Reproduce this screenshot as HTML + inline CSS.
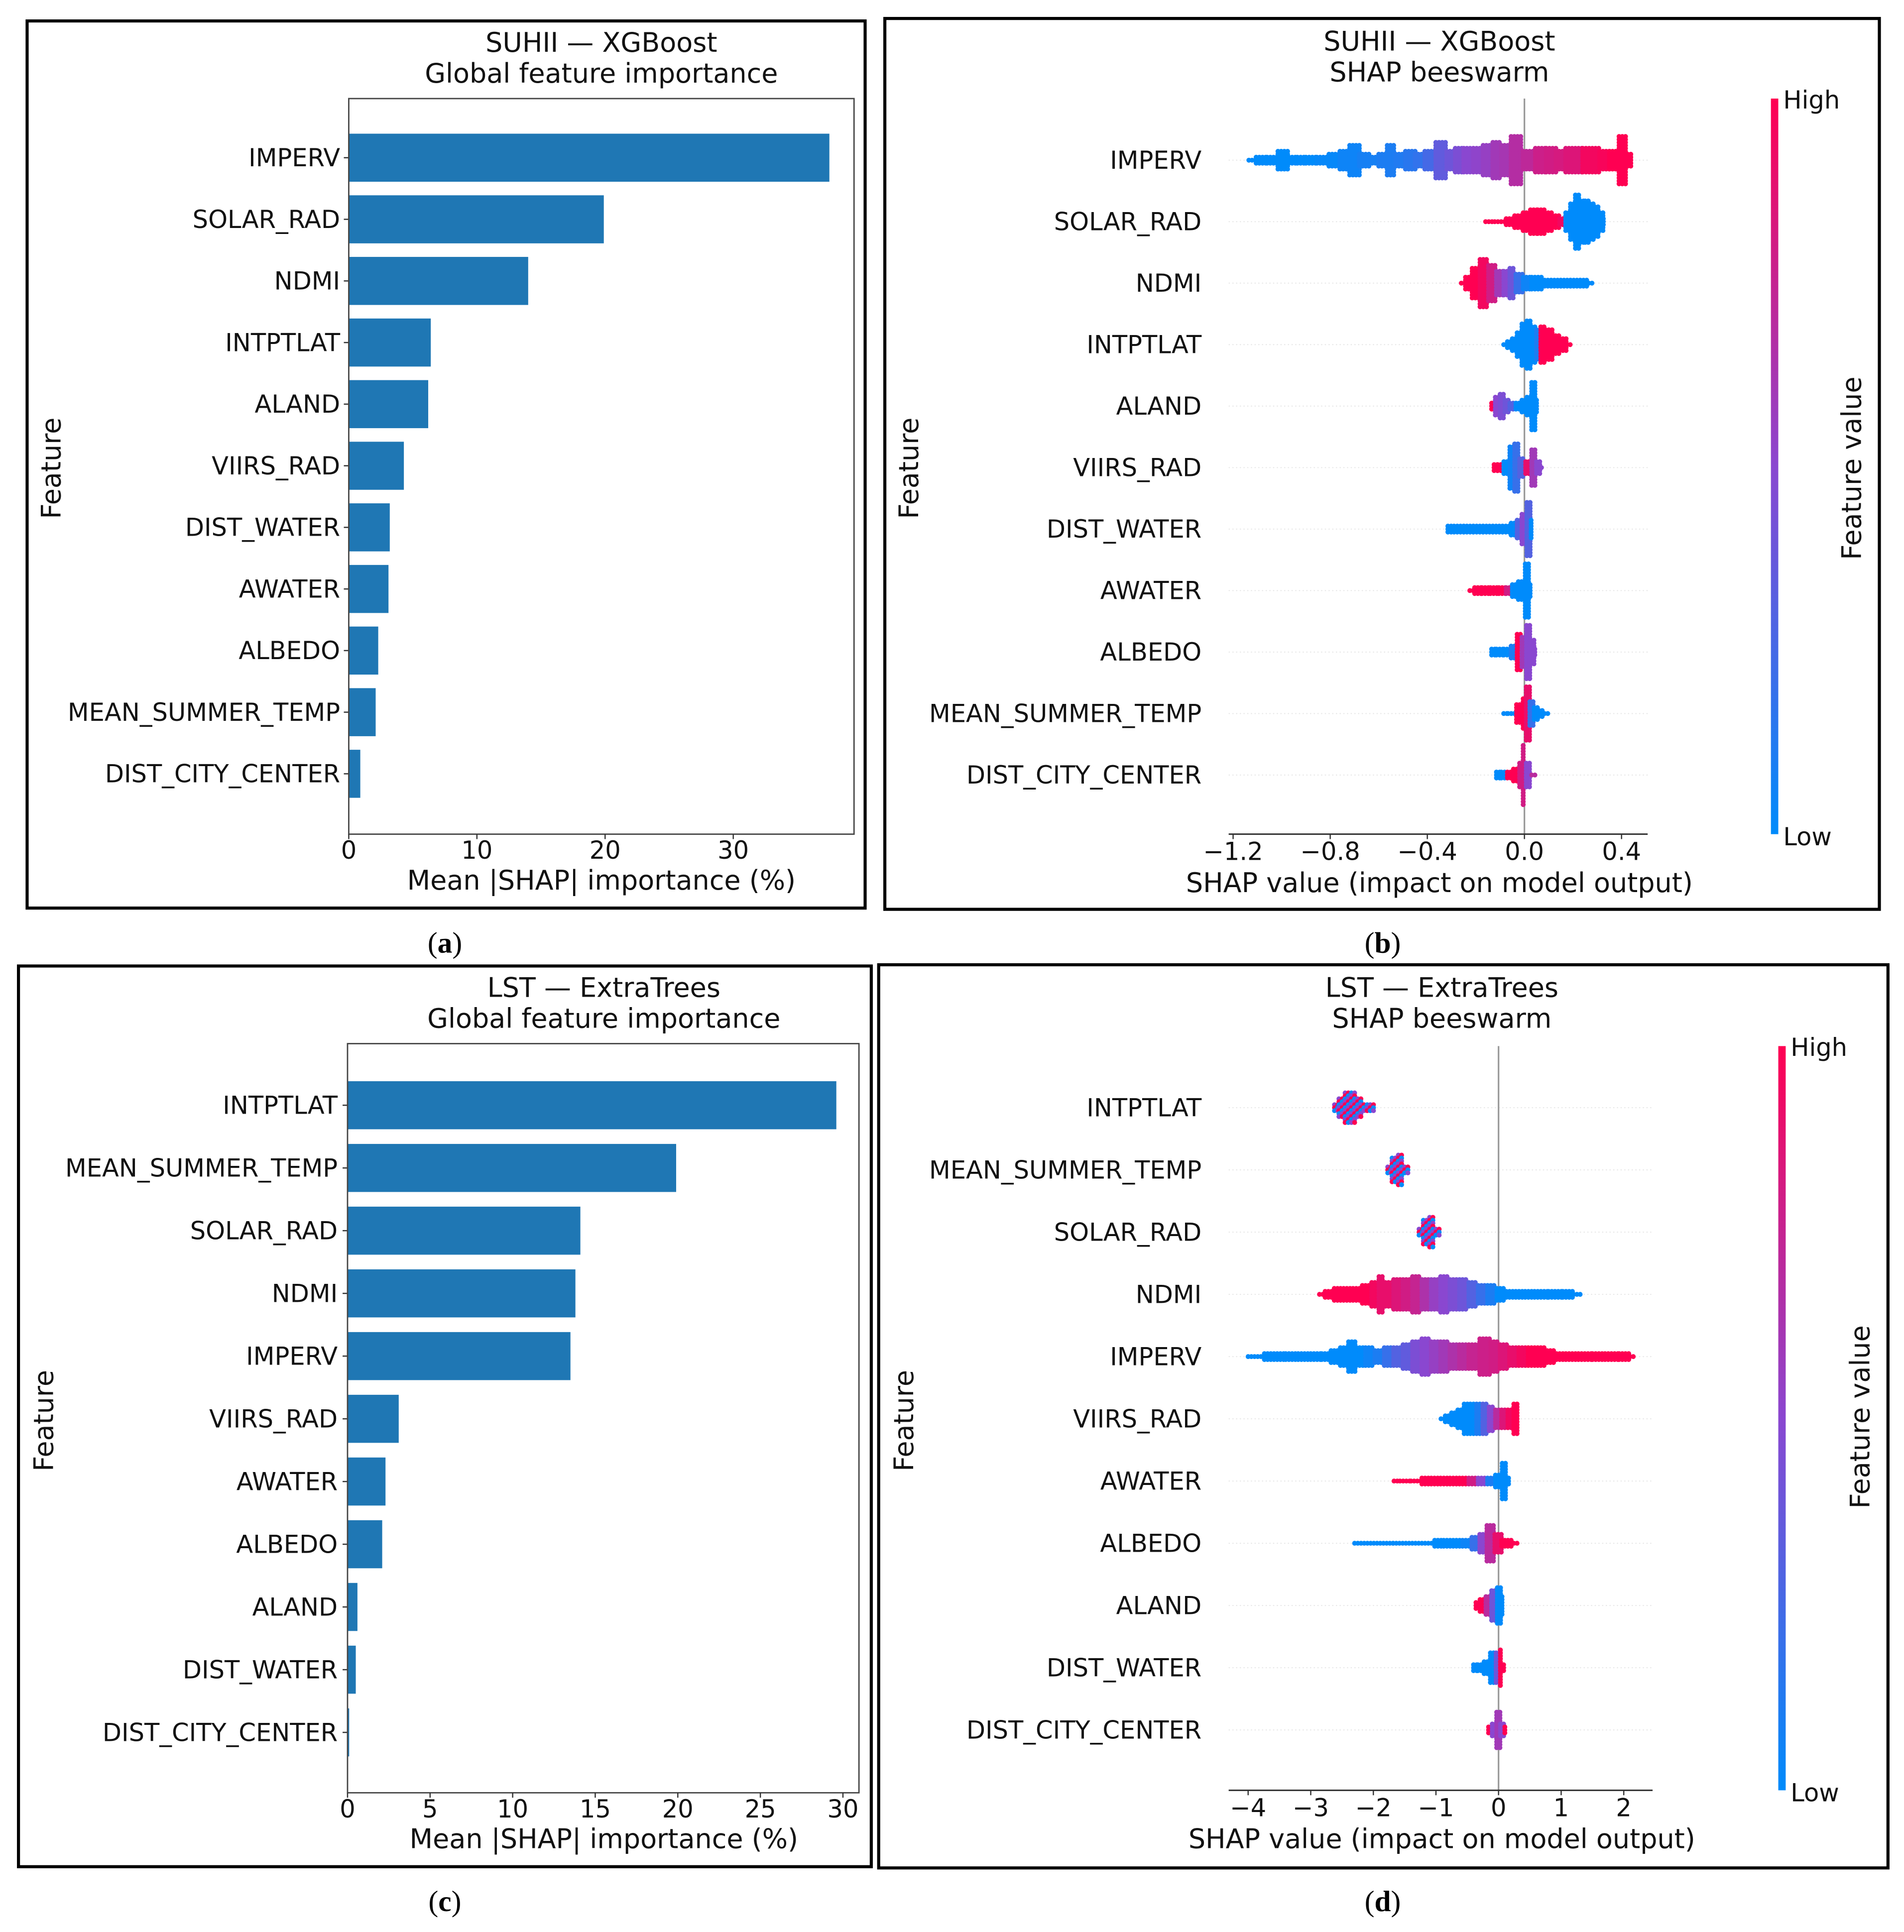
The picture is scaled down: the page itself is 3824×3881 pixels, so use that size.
<!DOCTYPE html>
<html><head><meta charset="utf-8"><style>
html,body{margin:0;padding:0;background:#fff}
svg{display:block}
text{font-family:"DejaVu Sans","Liberation Sans",sans-serif;fill:#111}
.cap{font-family:"Liberation Serif",serif;font-size:24px;fill:#000}
</style></head><body>
<svg id="fig" xmlns="http://www.w3.org/2000/svg" width="3824" height="3881" viewBox="0 0 1545 1568" preserveAspectRatio="none">
<defs>
<linearGradient id="cbar" x1="0" y1="1" x2="0" y2="0">
<stop offset="0" stop-color="#008bfb"/><stop offset="0.5" stop-color="#8a47d0"/><stop offset="1" stop-color="#ff0052"/>
</linearGradient>
</defs>
<rect x="0" y="0" width="1545" height="1568" fill="#fff"/>
<rect x="22" y="17" width="680" height="720" fill="none" stroke="#000" stroke-width="2.5"/>
<rect x="718" y="15" width="807" height="723" fill="none" stroke="#000" stroke-width="2.5"/>
<rect x="15" y="784" width="692" height="731" fill="none" stroke="#000" stroke-width="2.5"/>
<rect x="713" y="783" width="819" height="733" fill="none" stroke="#000" stroke-width="2.5"/>
<text class="cap" x="361" y="773" text-anchor="middle">(<tspan font-weight="bold">a</tspan>)</text>
<text class="cap" x="1122" y="773" text-anchor="middle">(<tspan font-weight="bold">b</tspan>)</text>
<text class="cap" x="361" y="1551" text-anchor="middle">(<tspan font-weight="bold">c</tspan>)</text>
<text class="cap" x="1122" y="1551" text-anchor="middle">(<tspan font-weight="bold">d</tspan>)</text>
<g id="layer"></g>
</svg>
<script>
// ---- Panel (a) data
const aCats = ['IMPERV','SOLAR_RAD','NDMI','INTPTLAT','ALAND','VIIRS_RAD','DIST_WATER','AWATER','ALBEDO','MEAN_SUMMER_TEMP','DIST_CITY_CENTER'];
const aVals = [37.5,19.9,14.0,6.4,6.2,4.3,3.2,3.1,2.3,2.1,0.9];
const aTicks = [0,10,20,30];
// ---- Panel (c) data
const cCats = ['INTPTLAT','MEAN_SUMMER_TEMP','SOLAR_RAD','NDMI','IMPERV','VIIRS_RAD','AWATER','ALBEDO','ALAND','DIST_WATER','DIST_CITY_CENTER'];
const cVals = [29.6,19.9,14.1,13.8,13.5,3.1,2.3,2.1,0.6,0.5,0.1];
const cTicks = [0,5,10,15,20,25,30];
// ---- Panel (b) beeswarm: [shap value, half-height in dots, feature colour 0=low..1=high]
const bCats = ['IMPERV','SOLAR_RAD','NDMI','INTPTLAT','ALAND','VIIRS_RAD','DIST_WATER','AWATER','ALBEDO','MEAN_SUMMER_TEMP','DIST_CITY_CENTER'];
const bTicks = [-1.2,-0.8,-0.4,0.0,0.4];
const bTickLabels = ['\u22121.2','\u22120.8','\u22120.4','0.0','0.4'];
const bImperv = [[-1.13,0,0],[-1.08,1,0],[-1.04,1,0],[-0.99,3,0],[-0.95,1,0],[-0.92,1,0],[-0.88,1,0],[-0.83,1,0.02],[-0.78,2,0.02],[-0.74,3,0.05],[-0.70,5,0.05],[-0.66,2,0.08],[-0.62,1,0.08],[-0.58,2,0.1],[-0.55,5,0.1],[-0.51,2,0.12],[-0.47,3,0.15],[-0.43,2,0.18],[-0.39,3,0.25],[-0.34,6,0.35],[-0.30,3,0.4],[-0.27,4,0.45],[-0.23,4,0.5],[-0.19,4,0.52],[-0.15,5,0.55],[-0.11,6,0.6],[-0.08,5,0.62],[-0.03,8,0.68],[0.02,3,0.72],[0.07,4,0.78],[0.11,4,0.8],[0.15,3,0.82],[0.19,4,0.85],[0.29,4,0.95],[0.33,3,0.97],[0.37,3,1],[0.41,8,1],[0.44,2,1]];
const bSolar = [[-0.155,0,1],[-0.09,0,1],[-0.06,1,1],[-0.02,2,1],[0.01,3,1],[0.04,4,1],[0.07,4,1],[0.10,3,1],[0.13,2,1],[0.16,1,0.95],[0.18,3,0],[0.20,6,0],[0.22,9,0],[0.24,7,0],[0.26,7,0],[0.28,6,0],[0.30,5,0],[0.32,3,0],[0.33,1,0]];
const bNdmi = [[-0.255,0,1],[-0.23,2,1],[-0.2,5,1],[-0.165,8,0.95],[-0.13,6,0.8],[-0.10,4,0.6],[-0.07,4,0.5],[-0.05,5,0.4],[-0.02,3,0.2],[0.01,2,0.05],[0.05,2,0],[0.09,1,0],[0.13,1,0],[0.17,1,0],[0.21,1,0],[0.25,1,0],[0.28,0,0]];
const bLat = [[-0.08,0,0],[-0.06,1,0],[-0.04,2,0],[-0.02,4,0],[0.0,7,0],[0.02,8,0],[0.04,6,0],[0.06,5,0.1],[0.075,6,1],[0.10,5,1],[0.13,3,1],[0.16,2,1],[0.19,0,1]];
const bAland = [[-0.13,1,1],[-0.11,3,0.5],[-0.09,4,0.45],[-0.07,2,0.4],[-0.05,1,0.3],[-0.02,1,0],[0.0,2,0],[0.02,3,0],[0.04,8,0],[0.06,2,0]];
const bViirs = [[-0.12,1,1],[-0.10,1,1],[-0.07,2,0],[-0.05,7,0.05],[-0.03,8,0.2],[-0.01,3,0.3],[0.02,2,0.9],[0.04,6,0.6],[0.06,2,0.5],[0.08,0,0.5]];
const bDistW = [[-0.31,1,0],[-0.27,1,0],[-0.23,1,0],[-0.19,1,0],[-0.15,1,0],[-0.11,1,0],[-0.07,1,0],[-0.04,2,0],[-0.02,3,0.3],[0.0,5,0.5],[0.02,9,0.3],[0.035,3,0]];
const bAwater = [[-0.22,0,1],[-0.19,1,1],[-0.16,1,1],[-0.12,1,1],[-0.09,1,1],[-0.06,1,0.8],[-0.04,2,0],[-0.01,3,0],[0.017,9,0],[0.03,2,0]];
const bAlbedo = [[-0.13,1,0],[-0.1,1,0],[-0.07,1,0],[-0.04,2,0.1],[-0.02,6,1],[0.0,5,0.6],[0.017,9,0.5],[0.035,4,0.5],[0.05,1,0.5]];
const bTemp = [[-0.08,0,0],[-0.055,0,0],[-0.01,3,1],[0.0,5,1],[0.015,9,0.9],[0.03,4,0.2],[0.05,2,0],[0.07,1,0],[0.095,0,0]];
const bCity = [[-0.11,1,0],[-0.08,1,0],[-0.06,1,1],[-0.03,2,1],[-0.01,4,0.8],[0.0,10,0.8],[0.015,4,0.5],[0.045,0,0.7]];
// ---- Panel (d) beeswarm (colour -1 = mixed)
const dCats = ['INTPTLAT','MEAN_SUMMER_TEMP','SOLAR_RAD','NDMI','IMPERV','VIIRS_RAD','AWATER','ALBEDO','ALAND','DIST_WATER','DIST_CITY_CENTER'];
const dTicks = [-4,-3,-2,-1,0,1,2];
const dTickLabels = ['\u22124','\u22123','\u22122','\u22121','0','1','2'];
const dLat = [[-2.6,1,-1],[-2.5,3,-1],[-2.4,5,-1],[-2.3,5,-1],[-2.2,3,-1],[-2.1,1,-1],[-2.0,1,-1]];
const dTemp = [[-1.75,1,-1],[-1.65,4,-1],[-1.55,5,-1],[-1.45,1,-1]];
const dSolar = [[-1.25,1,-1],[-1.15,4,-1],[-1.05,5,-1],[-0.95,1,-1]];
const dNdmi = [[-2.84,0,1],[-2.7,1,1],[-2.55,2,1],[-2.4,2,1],[-2.25,2,1],[-2.1,3,1],[-1.95,4,0.95],[-1.87,6,0.9],[-1.75,4,0.9],[-1.6,5,0.85],[-1.45,5,0.8],[-1.3,6,0.75],[-1.15,5,0.65],[-1.0,5,0.55],[-0.85,6,0.5],[-0.7,5,0.45],[-0.55,5,0.4],[-0.4,4,0.3],[-0.25,3,0.2],[-0.1,3,0.1],[0.05,2,0],[0.2,1,0],[0.35,1,0],[0.5,1,0],[0.65,1,0],[0.95,1,0],[1.1,1,0],[1.3,0,0]];
const dImperv = [[-3.98,0,0],[-3.5,1,0],[-3.3,1,0],[-3.1,1,0],[-2.9,1,0],[-2.75,1,0],[-2.6,2,0],[-2.45,3,0],[-2.34,5,0],[-2.2,3,0],[-2.05,3,0.05],[-1.9,2,0.1],[-1.75,3,0.2],[-1.6,3,0.3],[-1.45,4,0.35],[-1.3,5,0.45],[-1.15,6,0.5],[-1.0,5,0.55],[-0.85,5,0.6],[-0.7,4,0.65],[-0.55,4,0.7],[-0.4,4,0.75],[-0.2,6,0.78],[-0.05,5,0.8],[0.1,4,0.85],[0.25,3,0.9],[0.4,3,0.95],[0.55,3,1],[0.7,3,1],[0.85,2,1],[1.0,1,1],[1.15,1,1],[1.4,1,1],[1.6,1,1],[1.8,1,1],[2.05,1,1],[2.15,0,1]];
const dViirs = [[-0.9,0,0],[-0.8,1,0],[-0.7,2,0],[-0.6,3,0],[-0.5,5,0],[-0.4,5,0],[-0.3,5,0.1],[-0.2,5,0.3],[-0.1,4,0.5],[0.0,3,0.7],[0.1,3,0.85],[0.2,3,0.95],[0.29,5,1]];
const dAwater = [[-1.65,0,1],[-1.5,0,1],[-1.3,0,1],[-1.15,1,1],[-1.0,1,1],[-0.85,1,1],[-0.7,1,1],[-0.55,1,1],[-0.4,1,0.8],[-0.25,1,0.5],[-0.1,1,0.1],[0.0,2,0],[0.12,6,0],[0.2,1,0]];
const dAlbedo = [[-2.28,0,0],[-1.09,0,0],[-0.95,1,0],[-0.8,1,0],[-0.65,1,0],[-0.5,1,0.05],[-0.35,2,0.2],[-0.25,3,0.5],[-0.12,6,0.7],[0.0,3,0.9],[0.1,1,1],[0.2,1,1],[0.29,0,1]];
const dAland = [[-0.34,1,1],[-0.25,2,1],[-0.15,3,0.7],[-0.07,5,0.4],[0.03,6,0],[0.08,3,0]];
const dDistW = [[-0.38,1,0],[-0.28,1,0],[-0.18,2,0],[-0.08,5,0],[0.0,5,0.4],[0.06,6,1],[0.1,1,1]];
const dCity = [[-0.14,1,1],[-0.06,2,0.5],[0.0,6,0.6],[0.06,2,0.5],[0.14,1,1]];

const NS = 'http://www.w3.org/2000/svg';
const layer = document.getElementById('layer');
const TICK_FS = 20;
const TITLE_FS = 21.8;
function mk(tag, attrs, parent) {
  const e = document.createElementNS(NS, tag);
  for (const k in attrs) e.setAttribute(k, attrs[k]);
  (parent || layer).appendChild(e);
  return e;
}
function txt(s, x, y, size, anchor, parent) {
  const t = mk('text', {x: x, y: y, 'font-size': size, 'text-anchor': anchor || 'middle'}, parent);
  t.textContent = s;
  return t;
}
function mixCol(c) {
  const stops = [[0,[0,139,251]],[0.5,[138,71,208]],[1,[255,0,82]]];
  let a = stops[0], b = stops[1];
  if (c > 0.5) { a = stops[1]; b = stops[2]; }
  const t = (c - a[0]) / (b[0] - a[0]);
  const r = a[1].map((v, i) => Math.round(v + (b[1][i] - v) * t));
  return 'rgb(' + r.join(',') + ')';
}

// ---------- Bar chart builder
function barChart(p) {
  const g = mk('g', {});
  
  
  const xs = v => p.x0 + v * p.k;
  const t1 = txt(p.title1, p.tx, p.ty, TITLE_FS, 'middle', g);
  
  
  const t2 = txt(p.title2, p.tx, p.ty + 25, TITLE_FS, 'middle', g);
  
  
  p.cats.forEach((c, i) => {
    const y = p.y0 + i * p.dy;
    const r = mk('rect', {x: xs(0), y: y - 19.5, width: xs(p.vals[i]) - xs(0), height: 39, fill: '#1f77b4'}, g);
    
    
    mk('line', {x1: xs(0) - 4, x2: xs(0), y1: y, y2: y, stroke: '#333', 'stroke-width': 1}, g);
    const l = txt(c, p.lx, y + 7, TICK_FS, 'end', g);
    
    
  });
  const ax = mk('rect', {x: p.x0, y: p.top, width: p.right - p.x0, height: p.bottom - p.top, fill: 'none', stroke: '#444', 'stroke-width': 1.1}, g);
  
  
  p.ticks.forEach(v => {
    mk('line', {x1: xs(v), x2: xs(v), y1: p.bottom, y2: p.bottom + 4, stroke: '#333', 'stroke-width': 1}, g);
    const l = txt(String(v), xs(v), p.bottom + 20, TICK_FS, 'middle', g);
    
    
  });
  const xl = txt('Mean |SHAP| importance (%)', p.tx, p.bottom + 45, TITLE_FS, 'middle', g);
  
  
  const yl = txt('Feature', 0, 0, TITLE_FS, 'middle', g);
  yl.setAttribute('transform', 'translate(' + p.fx + ',' + p.fy + ') rotate(-90)');
  
  
}

barChart({name: 'panel-a-bar-chart', cats: aCats, vals: aVals, ticks: aTicks, x0: 283, k: 10.4, right: 693, top: 80, bottom: 677, y0: 128, dy: 50, lx: 276, tx: 488, ty: 42, fx: 49, fy: 380, title1: 'SUHII \u2014 XGBoost', title2: 'Global feature importance'});
barChart({name: 'panel-c-bar-chart', cats: cCats, vals: cVals, ticks: cTicks, x0: 282, k: 13.4, right: 697, top: 847, bottom: 1455, y0: 897, dy: 50.9, lx: 274, tx: 490, ty: 809, fx: 43, fy: 1153, title1: 'LST \u2014 ExtraTrees', title2: 'Global feature importance'});

// ---------- Beeswarm builder
function swarm(p) {
  const g = mk('g', {});
  
  
  const xs = v => p.x0 + v * p.k;
  const t1 = txt(p.title1, p.tx, p.ty, TITLE_FS, 'middle', g);
  
  
  const t2 = txt('SHAP beeswarm', p.tx, p.ty + 25, TITLE_FS, 'middle', g);
  
  
  p.cats.forEach((c, i) => {
    const y = p.y0 + i * p.dy;
    mk('line', {x1: p.left, x2: p.right, y1: y, y2: y, stroke: '#e6e6e6', 'stroke-width': 0.8, 'stroke-dasharray': '1,2'}, g);
    const l = txt(c, p.lx, y + 7, TICK_FS, 'end', g);
    
    
  });
  const zl = mk('line', {x1: xs(0), x2: xs(0), y1: p.top, y2: p.bottom, stroke: '#999', 'stroke-width': 1.3}, g);
  
  
  p.rows.forEach((nodes, i) => {
    const y = p.y0 + i * p.dy;
    const rg = mk('g', {}, g);
    
    
    let col = 0;
    nodes.forEach((nd, j) => {
      const x = xs(nd[0]);
      const lft = j > 0 ? (xs(nodes[j - 1][0]) + x) / 2 : x - 1;
      const rgt = j < nodes.length - 1 ? (xs(nodes[j + 1][0]) + x) / 2 : x + 0.5;
      for (let px = lft; px <= rgt; px += 2.6) {
        const n = nd[1];
        for (let k = -n; k <= n; k++) {
          let fill;
          const m = ((k + col) % 3 + 3) % 3;
          if (nd[2] < 0) fill = m === 0 ? '#ff0052' : (m === 1 ? '#008bfb' : '#8a47d0');
          else fill = mixCol(nd[2]);
          const d = mk('circle', {cx: px.toFixed(1), cy: (y + k * 2.4).toFixed(1), r: 2, fill: fill}, rg);
          
          
        }
        col++;
      }
    });
  });
  const ax = mk('line', {x1: p.left, x2: p.right, y1: p.bottom, y2: p.bottom, stroke: '#333', 'stroke-width': 1.2}, g);
  
  
  p.ticks.forEach((v, i) => {
    mk('line', {x1: xs(v), x2: xs(v), y1: p.bottom, y2: p.bottom + 4, stroke: '#333', 'stroke-width': 1}, g);
    const l = txt(p.tickLabels[i], xs(v), p.bottom + 21, TICK_FS, 'middle', g);
    
    
  });
  const xl = txt('SHAP value (impact on model output)', p.tx, p.bottom + 47, TITLE_FS, 'middle', g);
  
  
  const yl = txt('Feature', 0, 0, TITLE_FS, 'middle', g);
  yl.setAttribute('transform', 'translate(' + p.fx + ',' + p.fy + ') rotate(-90)');
  
  
  const cb = mk('rect', {x: p.cbx, y: p.top, width: 6, height: p.bottom - p.top, fill: 'url(#cbar)'}, g);
  
  
  const hi = txt('High', p.cbx + 10, p.top + 8, TICK_FS, 'start', g);
  
  
  const lo = txt('Low', p.cbx + 10, p.bottom + 9, TICK_FS, 'start', g);
  
  
  const fv = txt('Feature value', 0, 0, TITLE_FS, 'middle', g);
  fv.setAttribute('transform', 'translate(' + p.fvx + ',' + p.fvy + ') rotate(-90)');
  
  
}

swarm({name: 'panel-b-beeswarm', cats: bCats, ticks: bTicks, tickLabels: bTickLabels,
  rows: [bImperv, bSolar, bNdmi, bLat, bAland, bViirs, bDistW, bAwater, bAlbedo, bTemp, bCity],
  x0: 1237, k: 197, left: 997, right: 1337, top: 80, bottom: 677, y0: 130, dy: 49.9, lx: 975,
  tx: 1168, ty: 41, fx: 745, fy: 380, cbx: 1437, fvx: 1510, fvy: 380, title1: 'SUHII \u2014 XGBoost'});
swarm({name: 'panel-d-beeswarm', cats: dCats, ticks: dTicks, tickLabels: dTickLabels,
  rows: [dLat, dTemp, dSolar, dNdmi, dImperv, dViirs, dAwater, dAlbedo, dAland, dDistW, dCity],
  x0: 1216, k: 50.8, left: 997, right: 1341, top: 849, bottom: 1453, y0: 899, dy: 50.5, lx: 975,
  tx: 1170, ty: 809, fx: 741, fy: 1153, cbx: 1443, fvx: 1517, fvy: 1150, title1: 'LST \u2014 ExtraTrees'});
</script>
</body></html>
